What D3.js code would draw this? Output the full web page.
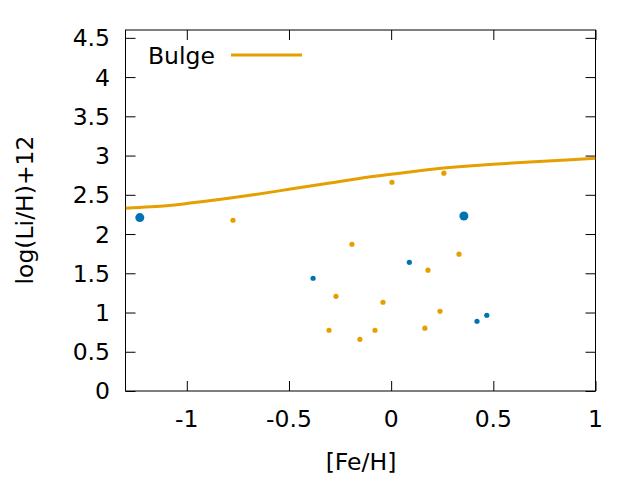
<!DOCTYPE html>
<html>
<head>
<meta charset="utf-8">
<script src="https://cdn.jsdelivr.net/npm/d3@7"></script>
<style>
  body { margin: 0; background: #fff; }
  text { font-family: "DejaVu Sans", sans-serif; }
</style>
</head>
<body>
<div id="chart"></div>
<script>
// Bulge model curve
const bulgeFe = [-1.3, -1.1, -1.0, -0.9, -0.7, -0.5, -0.3, -0.1, 0.1, 0.3, 0.5, 0.7, 0.9, 1.0];
const bulgeLi = [2.33, 2.36, 2.39, 2.42, 2.49, 2.57, 2.65, 2.73, 2.795, 2.85, 2.89, 2.92, 2.95, 2.965];

// orange stars
const orangeFe = [-0.774, -0.192, -0.27, -0.304, -0.153, -0.079, -0.04, 0.18, 0.332, 0.239, 0.165, 0.004, 0.258];
const orangeLi = [2.176, 1.87, 1.207, 0.774, 0.659, 0.774, 1.131, 1.539, 1.743, 1.016, 0.80, 2.66, 2.775];

// blue stars, small
const blueFe = [-0.382, 0.089, 0.42, 0.468];
const blueLi = [1.437, 1.64, 0.889, 0.965];

// blue stars, large
const bigFe = [-1.23, 0.356];
const bigLi = [2.21, 2.23];

const xTicks = [-1, -0.5, 0, 0.5, 1];
const yTicks = [0, 0.5, 1, 1.5, 2, 2.5, 3, 3.5, 4, 4.5];

const width = 640;
const height = 480;
const orange = "#e69f00";
const blue = "#0072b2";
const fontSize = 23.5;

const x = d3.scaleLinear().domain([-1.3, 1]).range([125.5, 595.5]);
const y = d3.scaleLinear().domain([0, 4.6]).range([391, 30]);

const svg = d3.select("#chart").append("svg")
  .attr("width", width)
  .attr("height", height);

// axes with inward ticks, mirrored on the top and right
const tickLen = 10;
svg.append("g")
  .attr("transform", `translate(0,${y(0)})`)
  .call(d3.axisBottom(x).tickValues(xTicks).tickSize(-tickLen).tickFormat(""));
svg.append("g")
  .attr("transform", `translate(0,${y(4.6)})`)
  .call(d3.axisTop(x).tickValues(xTicks).tickSize(-tickLen).tickFormat(""));
svg.append("g")
  .attr("transform", `translate(${x(-1.3)},0)`)
  .call(d3.axisLeft(y).tickValues(yTicks).tickSize(-tickLen).tickFormat(""));
svg.append("g")
  .attr("transform", `translate(${x(1)},0)`)
  .call(d3.axisRight(y).tickValues(yTicks).tickSize(-tickLen).tickFormat(""));

svg.selectAll(".domain").remove();
svg.selectAll(".tick line").attr("stroke", "#000").attr("stroke-width", 1);

svg.append("rect")
  .attr("x", x(-1.3))
  .attr("y", y(4.6))
  .attr("width", x(1) - x(-1.3))
  .attr("height", y(0) - y(4.6))
  .attr("fill", "none")
  .attr("stroke", "#000")
  .attr("stroke-width", 1);

// tick labels
svg.append("g")
  .selectAll("text")
  .data(xTicks)
  .join("text")
  .attr("x", d => x(d))
  .attr("y", 427)
  .attr("text-anchor", "middle")
  .attr("font-size", fontSize)
  .text(d => d);

svg.append("g")
  .selectAll("text")
  .data(yTicks)
  .join("text")
  .attr("x", 110)
  .attr("y", d => y(d))
  .attr("dy", "0.36em")
  .attr("text-anchor", "end")
  .attr("font-size", fontSize)
  .text(d => d);

// axis titles
svg.append("text")
  .attr("x", 361)
  .attr("y", 470)
  .attr("text-anchor", "middle")
  .attr("font-size", fontSize)
  .text("[Fe/H]");

svg.append("text")
  .attr("transform", "translate(33,210) rotate(-90)")
  .attr("text-anchor", "middle")
  .attr("font-size", fontSize)
  .text("log(Li/H)+12");

// clip to plot area
svg.append("clipPath")
  .attr("id", "clip")
  .append("rect")
  .attr("x", x(-1.3))
  .attr("y", y(4.6))
  .attr("width", x(1) - x(-1.3))
  .attr("height", y(0) - y(4.6));

const plot = svg.append("g").attr("clip-path", "url(#clip)");

const line = d3.line()
  .x(d => x(d[0]))
  .y(d => y(d[1]))
  .curve(d3.curveNatural);

plot.append("path")
  .datum(d3.zip(bulgeFe, bulgeLi))
  .attr("d", line)
  .attr("fill", "none")
  .attr("stroke", orange)
  .attr("stroke-width", 3);

plot.append("g")
  .selectAll("circle")
  .data(d3.zip(orangeFe, orangeLi))
  .join("circle")
  .attr("cx", d => x(d[0]))
  .attr("cy", d => y(d[1]))
  .attr("r", 2.6)
  .attr("fill", orange);

plot.append("g")
  .selectAll("circle")
  .data(d3.zip(blueFe, blueLi))
  .join("circle")
  .attr("cx", d => x(d[0]))
  .attr("cy", d => y(d[1]))
  .attr("r", 2.6)
  .attr("fill", blue);

plot.append("g")
  .selectAll("circle")
  .data(d3.zip(bigFe, bigLi))
  .join("circle")
  .attr("cx", d => x(d[0]))
  .attr("cy", d => y(d[1]))
  .attr("r", 4.5)
  .attr("fill", blue);

// legend
svg.append("text")
  .attr("x", 148)
  .attr("y", 64)
  .attr("font-size", fontSize)
  .text("Bulge");

svg.append("line")
  .attr("x1", 231)
  .attr("x2", 302)
  .attr("y1", 55)
  .attr("y2", 55)
  .attr("stroke", orange)
  .attr("stroke-width", 3);
</script>
</body>
</html>
